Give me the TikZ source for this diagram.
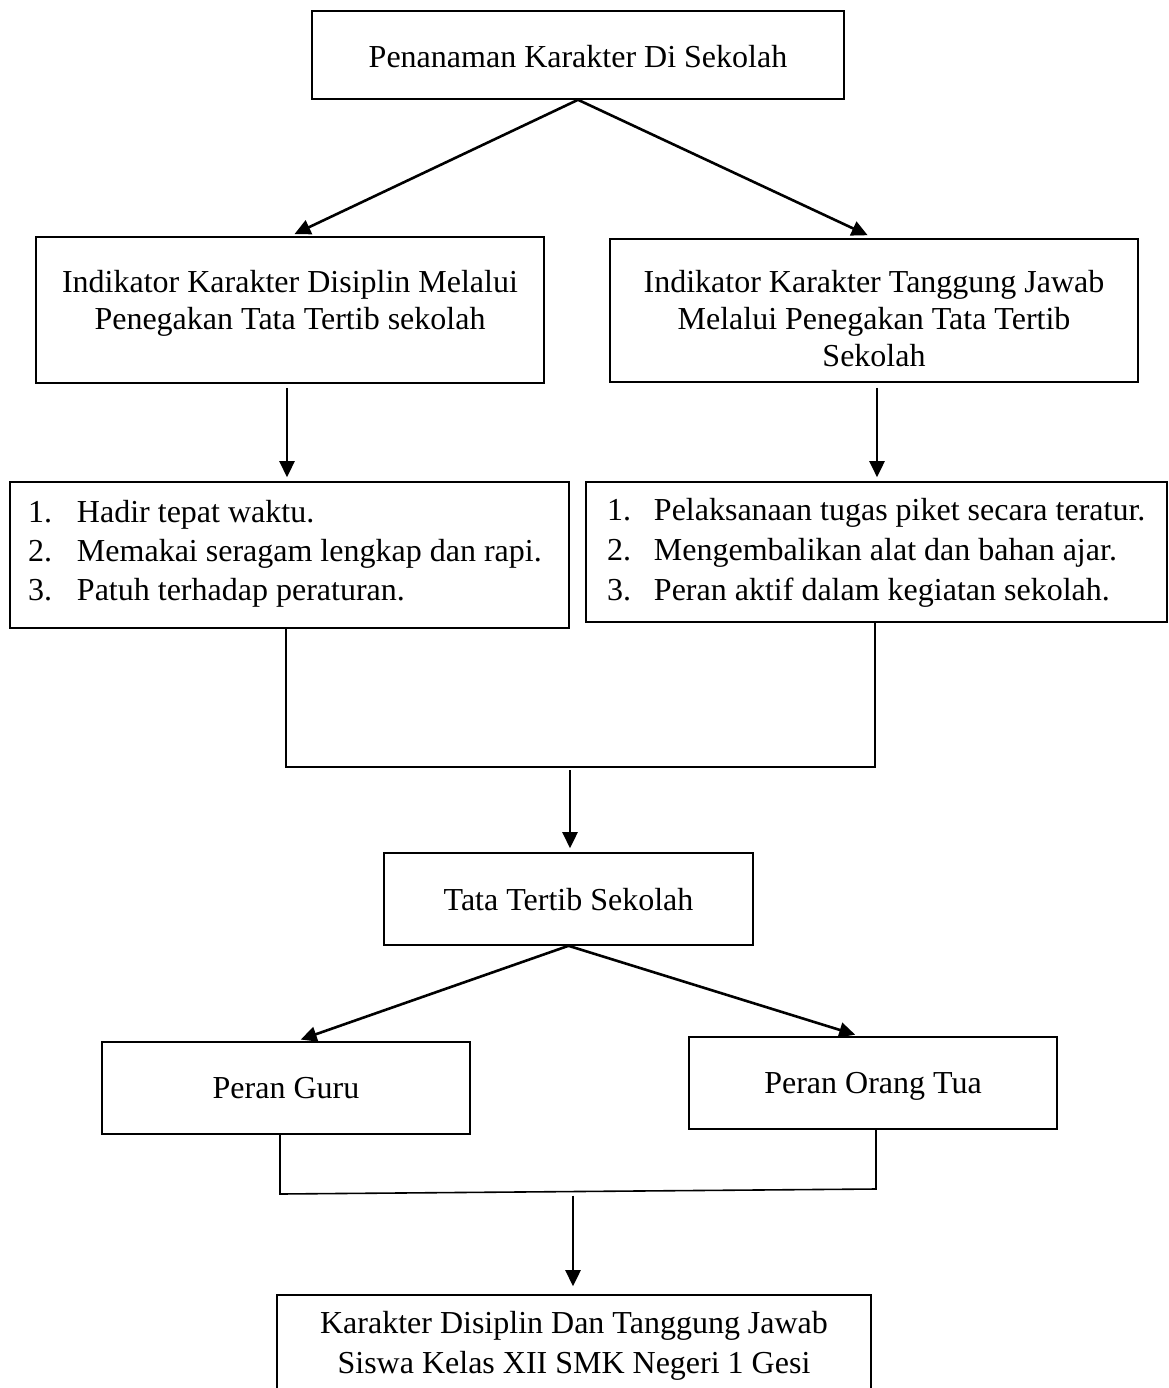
\documentclass[tikz,border=0pt]{standalone}
\usepackage{fontspec}
\setmainfont{Liberation Serif}
\usetikzlibrary{arrows.meta}
% box text: width, height, first-baseline offset, content
\newcommand{\bxtext}[4]{\parbox[c][#2][t]{#1}{\centering\rule{0pt}{#3}#4}}
\newcommand{\bxlist}[4]{\parbox[c][#2][t]{#1}{\raggedright\rule{0pt}{#3}#4}}
\newcommand{\lit}[3]{\hspace*{#1}\makebox[#2][l]{#3}}
\begin{document}
\begin{tikzpicture}[x=1pt,y=-1pt,
  box/.style={draw, line width=1.6pt, inner sep=0pt, font=\fontsize{32pt}{37pt}\selectfont},
  arr/.style={line width=2.6pt, -{Triangle[length=16pt,width=15pt]}},
  link/.style={line width=1.6pt}]
\clip (0,0) rectangle (1168,1388);
\fill[white] (0,0) rectangle (1168,1388);

\node[box] (top) at (578,55) {\bxtext{532pt}{88pt}{57pt}{Penanaman Karakter Di Sekolah}};
\node[box] (ind1) at (290,310) {\bxtext{508pt}{146pt}{55pt}{Indikator Karakter Disiplin Melalui\\Penegakan Tata Tertib sekolah}};
\node[box] (ind2) at (874,310.5) {\bxtext{528pt}{143pt}{53pt}{Indikator Karakter Tanggung Jawab\\Melalui Penegakan Tata Tertib\\Sekolah}};

\node[box] (list1) at (289.5,555) {\bxlist{559pt}{146pt}{40pt}{%
\lit{18pt}{49pt}{1.}Hadir tepat waktu.\\[2pt]
\lit{18pt}{49pt}{2.}Memakai seragam lengkap dan rapi.\\[2pt]
\lit{18pt}{49pt}{3.}Patuh terhadap peraturan.}};
\node[box] (list2) at (876.5,552) {\bxlist{581pt}{140pt}{38pt}{%
\lit{21pt}{47pt}{1.}Pelaksanaan tugas piket secara teratur.\\[3pt]
\lit{21pt}{47pt}{2.}Mengembalikan alat dan bahan ajar.\\[3pt]
\lit{21pt}{47pt}{3.}Peran aktif dalam kegiatan sekolah.}};

\node[box] (tata) at (568.5,899) {\bxtext{369pt}{92pt}{57pt}{Tata Tertib Sekolah}};
\node[box] (guru) at (286,1088) {\bxtext{368pt}{92pt}{56pt}{Peran Guru}};
\node[box] (orang) at (873,1083) {\bxtext{368pt}{92pt}{56pt}{Peran Orang Tua}};
\node[box] (final) at (574,1350) {\bxtext{594pt}{110pt}{38pt}{Karakter Disiplin Dan Tanggung Jawab\\[3pt]Siswa Kelas XII SMK Negeri 1 Gesi}};

% top fan-out
\draw[arr, shorten >=5pt] (top.south) -- (ind1.north);
\draw[arr, shorten >=7pt] (top.south) -- (ind2.north);
% indicator -> list
\draw[arr, shorten <=4pt, shorten >=4pt] ([xshift=-3pt]ind1.south) -- ([xshift=-2.5pt]list1.north);
\draw[arr, shorten <=5pt, shorten >=4pt] ([xshift=3pt]ind2.south) -- ([xshift=0.5pt]list2.north);
% first bracket
\coordinate (j1) at (570,767);
\draw[link] ([xshift=-3.5pt]list1.south) |- (j1) -| ([xshift=-1.5pt]list2.south);
\draw[arr, shorten <=3pt, shorten >=4pt] (j1) -- ([xshift=1.5pt]tata.north);
% second fan-out
\draw[arr, shorten >=5pt] (tata.south) -- ([xshift=10pt]guru.north);
\draw[arr, shorten >=5pt] (tata.south) -- ([xshift=-13pt]orang.north);
% second bracket
\coordinate (b2l) at (280,1194);
\coordinate (b2r) at (876,1189);
\coordinate (j2) at (573,1191.5);
\draw[link] ([xshift=-6pt]guru.south) -- (b2l) -- (b2r) -- ([xshift=3pt]orang.south);
\draw[arr, shorten <=4pt, shorten >=8pt] (j2) -- ([xshift=-1pt]final.north);
\end{tikzpicture}
\end{document}
